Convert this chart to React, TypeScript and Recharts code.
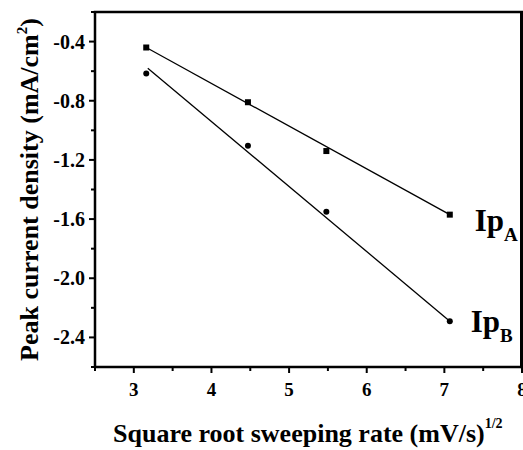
import { ComposedChart, Line, Scatter, XAxis, YAxis, ReferenceDot, Customized } from 'recharts';

// square root of sweep rate, (mV/s)^1/2
const rootRate = [3.16, 4.47, 5.48, 7.07];
// measured peak current densities, mA/cm2
const ipA = [-0.44, -0.81, -1.14, -1.57];
const ipB = [-0.615, -1.105, -1.55, -2.29];
// linear fit end points
const fitAx = [3.16, 7.07];
const fitAy = [-0.44, -1.57];
const fitBx = [3.18, 7.07];
const fitBy = [-0.58, -2.29];

const xTicks = [2.5, 3, 3.5, 4, 4.5, 5, 5.5, 6, 6.5, 7, 7.5, 8];
const yTicks = [-2.6, -2.4, -2.2, -2.0, -1.8, -1.6, -1.4, -1.2, -1.0, -0.8, -0.6, -0.4, -0.2];
const xDomain = [2.5, 8];
const yDomain = [-2.6, -0.2];

const SERIF = 'Liberation Serif';
const MARGIN = { top: 12, right: 1, bottom: 0, left: 0 };
const W = 523;
const H = 450;
const Y_AXIS_W = 95;
const X_AXIS_H = 83;

const pointsA = rootRate.map((x, i) => ({ x, y: ipA[i] }));
const pointsB = rootRate.map((x, i) => ({ x, y: ipB[i] }));
const lineA = fitAx.map((x, i) => ({ x, y: fitAy[i] }));
const lineB = fitBx.map((x, i) => ({ x, y: fitBy[i] }));

const XTick = (props: any) => {
  const { x, y, payload } = props;
  const major = Number.isInteger(payload.value);
  return (
    <g>
      <line x1={x} x2={x} y1={y} y2={y + (major ? 6 : 4)} stroke="#000" strokeWidth={2} />
      {major && (
        <text x={x} y={y + 29} textAnchor="middle" fontFamily={SERIF} fontWeight="bold" fontSize={19} fill="#000">
          {payload.value}
        </text>
      )}
    </g>
  );
};

const YTick = (props: any) => {
  const { x, y, payload } = props;
  const major = Math.round(payload.value * 10) % 4 === 0;
  return (
    <g>
      <line x1={x} x2={x - (major ? 6 : 4)} y1={y} y2={y} stroke="#000" strokeWidth={2} />
      {major && (
        <text x={x - 10} y={y + 7} textAnchor="end" fontFamily={SERIF} fontWeight="bold" fontSize={20} fill="#000">
          {payload.value.toFixed(1)}
        </text>
      )}
    </g>
  );
};

const square = (p: any) => <rect x={p.cx - 3} y={p.cy - 3} width={6} height={6} fill="#000" />;
const dot = (p: any) => <circle cx={p.cx} cy={p.cy} r={3} fill="#000" />;

const seriesLabel = (sub: string, dx: number, dy: number) => (props: any) => {
  const vb = props.viewBox;
  const cx = vb.x + vb.width / 2;
  const cy = vb.y + vb.height / 2;
  return (
    <text x={cx + dx} y={cy + dy} fontFamily={SERIF} fontWeight="bold" fontSize={31} fill="#000">
      Ip
      <tspan fontSize={19} dy={10}>{sub}</tspan>
    </text>
  );
};

const yTitle = (props: any) => {
  const vb = props.viewBox;
  const tx = vb.x + 38;
  const ty = vb.y + vb.height / 2;
  return (
    <text
      x={tx}
      y={ty}
      transform={`rotate(-90, ${tx}, ${ty})`}
      textAnchor="middle"
      fontFamily={SERIF}
      fontWeight="bold"
      fontSize={26}
      fill="#000"
    >
      Peak current density (mA/cm
      <tspan fontSize={15} dy={-11}>2</tspan>
      <tspan dy={11}>)</tspan>
    </text>
  );
};

const xTitle = (props: any) => {
  const vb = props.viewBox;
  return (
    <text x={vb.x + 18} y={vb.y + 75} fontFamily={SERIF} fontWeight="bold" fontSize={26} fill="#000">
      Square root sweeping rate (mV/s)
      <tspan fontSize={14} dy={-14}>1/2</tspan>
    </text>
  );
};

// plot area box, from the chart margins and axis sizes
const plotLeft = MARGIN.left + Y_AXIS_W;
const plotTop = MARGIN.top;
const plotRight = W - MARGIN.right;
const plotBottom = H - MARGIN.bottom - X_AXIS_H;

const Box = () => (
  <path
    d={`M${plotLeft},${plotTop} H${plotRight} V${plotBottom}`}
    fill="none"
    stroke="#000"
    strokeWidth={2.5}
    strokeLinecap="square"
  />
);

const axisLine = { stroke: '#000', strokeWidth: 2.5 };

export default function App() {
  return (
    <div style={{ position: 'absolute', left: 0, top: 0, background: '#fff' }}>
      <ComposedChart width={W} height={H} margin={MARGIN}>
        <XAxis
          dataKey="x"
          type="number"
          domain={xDomain}
          ticks={xTicks}
          height={X_AXIS_H}
          axisLine={axisLine}
          tickLine={false}
          tickSize={0}
          tickMargin={0}
          tick={XTick}
          interval={0}
          label={{ content: xTitle }}
        />
        <YAxis
          dataKey="y"
          type="number"
          domain={yDomain}
          ticks={yTicks}
          width={Y_AXIS_W}
          axisLine={axisLine}
          tickLine={false}
          tickSize={0}
          tickMargin={0}
          tick={YTick}
          interval={0}
          label={{ content: yTitle }}
        />
        <Customized component={Box} />
        <Line data={lineA} dataKey="y" stroke="#000" strokeWidth={1.3} dot={false} activeDot={false} isAnimationActive={false} />
        <Line data={lineB} dataKey="y" stroke="#000" strokeWidth={1.3} dot={false} activeDot={false} isAnimationActive={false} />
        <Scatter data={pointsA} dataKey="y" shape={square} isAnimationActive={false} />
        <Scatter data={pointsB} dataKey="y" shape={dot} isAnimationActive={false} />
        <ReferenceDot x={rootRate[3]} y={ipA[3]} r={0} fill="none" stroke="none" label={{ content: seriesLabel('A', 25, 16) }} />
        <ReferenceDot x={rootRate[3]} y={ipB[3]} r={0} fill="none" stroke="none" label={{ content: seriesLabel('B', 21, 11) }} />
      </ComposedChart>
      <div
        style={{
          position: 'absolute',
          left: plotLeft,
          top: plotTop - 1,
          width: plotRight - plotLeft,
          height: plotBottom - plotTop,
          borderTop: '2.5px solid #000',
          borderRight: '2.5px solid #000',
          boxSizing: 'border-box',
          pointerEvents: 'none',
        }}
      />
    </div>
  );
}
